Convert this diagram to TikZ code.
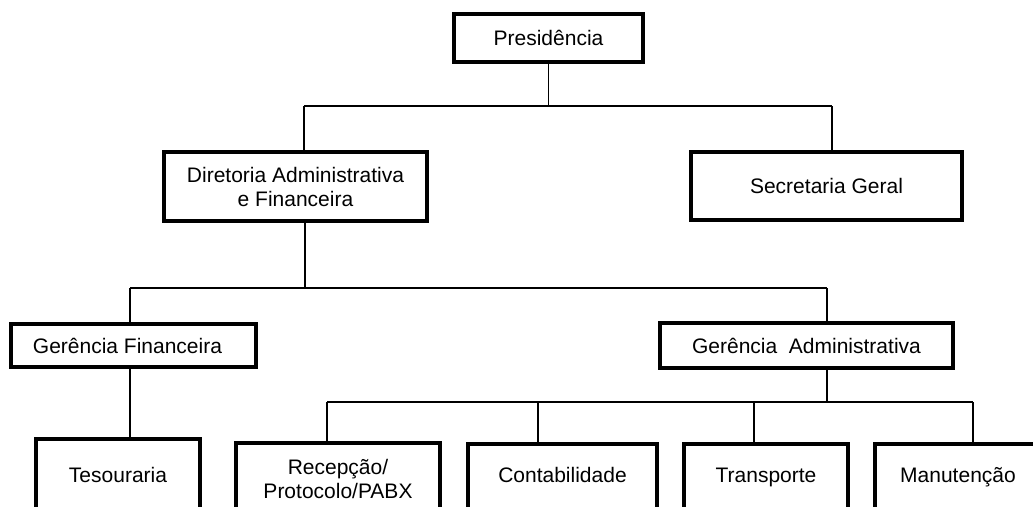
\documentclass[tikz,border=0pt]{standalone}
\usepackage{fontspec}
\setmainfont{Liberation Sans}
\usetikzlibrary{positioning}
\tikzset{
  box/.style = {rectangle, draw=black, line width=4pt, align=center, inner sep=0pt, font=\fontsize{21}{24}\selectfont},
  cut/.style = {text depth=40pt, anchor=base},
  link/.style = {line width=1.7pt}
}

\begin{document}
\begin{tikzpicture}[x=1pt, y=-1pt]
\useasboundingbox (0,0) rectangle (1033,506);
\clip (0,0) rectangle (1033,506);

% Level 1
\node[box, minimum width=189pt, minimum height=48pt] (pres) at (548.5,38) {Presidência};

% Level 2
\node[box, minimum width=263pt, minimum height=69pt] (dir) at (295.5,186.5) {Diretoria Administrativa\\e Financeira};
\node[box, minimum width=271pt, minimum height=68pt] (sec) at (826.5,186) {Secretaria Geral};

% Level 3
\node[box, minimum width=245pt, minimum height=43pt] (gfin) at (133.5,345.5) {Gerência Financeira\hspace*{12pt}};
\node[box, minimum width=293pt, minimum height=45pt] (gadm) at (806.5,345.5) {Gerência~~Administrativa};

% Level 4 (boxes run off the bottom)
\node[box, cut, minimum width=164pt, text height=43pt] (tes) at (118,482) {Tesouraria};
\node[box, minimum width=204pt, minimum height=72pt] (rec) at (338,479) {Recepção/\\Protocolo/PABX};
\node[box, cut, minimum width=189pt, text height=38pt] (cont) at (562.5,482) {Contabilidade};
\node[box, cut, minimum width=164pt, text height=38pt] (trans) at (766,482) {Transporte};
\node[box, cut, minimum width=166pt, text height=38pt] (man) at (958,482) {Manutenção};

% ----- LINES -----
% Presidência
\coordinate (b1l) at (304,106);
\coordinate (b1r) at (832,106);
\draw[link] (pres.south) -- (pres.south |- b1l);
\draw[link] (b1l) -- (b1r);
\draw[link] (b1l) -- (b1l |- dir.north);
\draw[link] (b1r) -- (b1r |- sec.north);

% Diretoria
\coordinate (b2l) at (130,288);
\coordinate (b2m) at (305,288);
\coordinate (b2r) at (827,288);
\draw[link] (b2m |- dir.south) -- (b2m);
\draw[link] (b2l) -- (b2r);
\draw[link] (b2l) -- (b2l |- gfin.north);
\draw[link] (b2r) -- (b2r |- gadm.north);

% Gerência Financeira
\draw[link] (b2l |- gfin.south) -- (b2l |- tes.north);

% Gerência Administrativa
\coordinate (b3l) at (327,402);
\coordinate (b3r) at (973,402);
\draw[link] (b2r |- gadm.south) -- (b2r |- b3l);
\draw[link] (b3l) -- (b3r);
\foreach \x/\n in {327/rec, 538/cont, 754/trans, 973/man} {
  \coordinate (d\n) at (\x,402);
  \draw[link] (d\n) -- (d\n |- \n.north);
}

\end{tikzpicture}
\end{document}
